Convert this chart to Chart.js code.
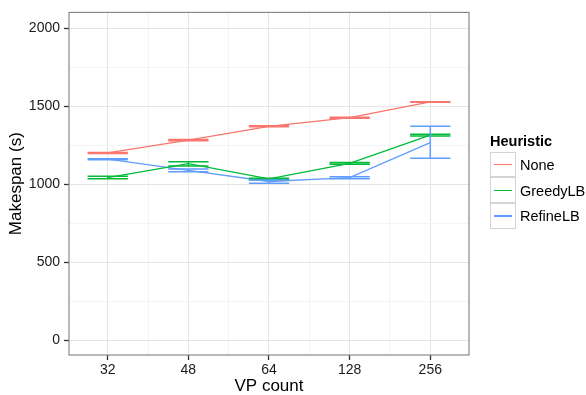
<!DOCTYPE html>
<html>
<head>
<meta charset="utf-8">
<script src="https://cdn.jsdelivr.net/npm/chart.js@4/dist/chart.umd.min.js"></script>
<style>
  html, body { margin: 0; padding: 0; background: #fff; }
  #wrap { position: relative; width: 586px; height: 395px; font-family: "Liberation Sans", Arial, Helvetica, sans-serif; }
  #c { position: absolute; left: 0; top: 0; }
  #legend { position: absolute; left: 490px; top: 133px; color: #000; }
  #legend .title { font-weight: bold; font-size: 14.5px; line-height: 17px; height: 19px; }
  #legend .row { display: flex; align-items: center; height: 25.7px; font-size: 14.5px; }
  #legend .key { width: 24px; height: 23.7px; border: 1px solid #d4d4d4; background: #fff; position: relative; box-sizing: content-box; margin-top: -1px; }
  #legend .key span { position: absolute; left: 3px; right: 3px; top: 11.5px; height: 1.4px; }
  #legend .lab { margin-left: 4px; }
</style>
</head>
<body>
<div id="wrap">
  <canvas id="c" width="586" height="395"></canvas>
  <div id="legend"></div>
</div>
<script>
const categories = ['32', '48', '64', '128', '256'];
const seriesNames = ['None', 'GreedyLB', 'RefineLB'];
const seriesColors = ['#F8766D', '#00BA38', '#619CFF'];

const noneMean = [1200, 1283, 1371, 1426, 1527];
const noneLo   = [1197, 1279, 1368, 1423, 1525];
const noneHi   = [1203, 1287, 1374, 1429, 1529];

const greedyMean = [1042, 1131, 1034, 1133, 1314];
const greedyLo   = [1034, 1117, 1028, 1127, 1308];
const greedyHi   = [1050, 1143, 1038, 1139, 1320];

const refineMean = [1160, 1088, 1017, 1042, 1266];
const refineLo   = [1157, 1080, 1006, 1035, 1166];
const refineHi   = [1163, 1097, 1027, 1048, 1371];

const yTicks = [0, 250, 500, 750, 1000, 1250, 1500, 1750, 2000];
const yMajor = [0, 500, 1000, 1500, 2000];

const means = [noneMean, greedyMean, refineMean];
const los = [noneLo, greedyLo, refineLo];
const his = [noneHi, greedyHi, refineHi];

const FONT = '"Liberation Sans", Arial, Helvetica, sans-serif';

const datasets = seriesNames.map((name, s) => ({
  label: name,
  data: categories.map((c, i) => ({ x: i, y: means[s][i] })),
  borderColor: seriesColors[s],
  backgroundColor: seriesColors[s],
  borderWidth: 1.3,
  pointRadius: 0,
  fill: false,
  tension: 0,
  errLo: los[s],
  errHi: his[s]
}));

const errorBars = {
  id: 'errorBars',
  afterDatasetsDraw(chart) {
    const { ctx, chartArea, scales: { x, y } } = chart;
    ctx.save();
    ctx.beginPath();
    ctx.rect(chartArea.left, chartArea.top, chartArea.right - chartArea.left, chartArea.bottom - chartArea.top);
    ctx.clip();
    chart.data.datasets.forEach(ds => {
      ctx.strokeStyle = ds.borderColor;
      ctx.lineWidth = 1.5;
      ds.data.forEach((p, i) => {
        const xc = x.getPixelForValue(p.x);
        const xl = x.getPixelForValue(p.x - 0.25);
        const xr = x.getPixelForValue(p.x + 0.25);
        const yl = y.getPixelForValue(ds.errLo[i]);
        const yh = y.getPixelForValue(ds.errHi[i]);
        ctx.beginPath();
        ctx.moveTo(xc, yl); ctx.lineTo(xc, yh);
        ctx.moveTo(xl, yl); ctx.lineTo(xr, yl);
        ctx.moveTo(xl, yh); ctx.lineTo(xr, yh);
        ctx.stroke();
      });
    });
    ctx.restore();
    // panel border
    ctx.save();
    ctx.strokeStyle = '#7F7F7F';
    ctx.lineWidth = 1.1;
    ctx.strokeRect(chartArea.left, chartArea.top, chartArea.right - chartArea.left, chartArea.bottom - chartArea.top);
    ctx.restore();
  }
};

new Chart(document.getElementById('c'), {
  type: 'line',
  data: { datasets },
  plugins: [errorBars],
  options: {
    responsive: false,
    animation: false,
    devicePixelRatio: 1,
    layout: { padding: { left: 0, right: 117, top: 8, bottom: 0 } },
    plugins: { legend: { display: false }, tooltip: { enabled: false } },
    scales: {
      x: {
        type: 'linear',
        min: -0.48,
        max: 4.48,
        afterBuildTicks(scale) {
          const t = [];
          for (let i = 0; i < categories.length; i++) {
            t.push({ value: i });
            if (i < categories.length - 1) t.push({ value: i + 0.5 });
          }
          scale.ticks = t;
        },
        afterFit(scale) { scale.height = 40; },
        ticks: {
          autoSkip: false,
          maxRotation: 0,
          padding: 2,
          color: '#1a1a1a',
          font: { family: FONT, size: 14 },
          callback: (v) => Number.isInteger(v) ? categories[v] : ''
        },
        grid: {
          drawTicks: true,
          tickLength: 5,
          tickWidth: 1.3,
          color: (c) => Number.isInteger(c.tick && c.tick.value) ? '#E5E5E5' : '#F3F3F3',
          tickColor: (c) => Number.isInteger(c.tick && c.tick.value) ? '#333333' : 'rgba(0,0,0,0)',
          lineWidth: 1
        },
        border: { display: false },
        title: {
          display: true,
          text: 'VP count',
          color: '#000',
          font: { family: FONT, size: 17, lineHeight: 1 },
          padding: { top: 0, bottom: 0 }
        }
      },
      y: {
        type: 'linear',
        min: -95,
        max: 2101,
        afterBuildTicks(scale) { scale.ticks = yTicks.map(v => ({ value: v })); },
        afterFit(scale) { scale.width = 69; },
        ticks: {
          autoSkip: false,
          padding: 4,
          color: '#1a1a1a',
          font: { family: FONT, size: 14 },
          callback: (v) => yMajor.includes(v) ? String(v) : ''
        },
        grid: {
          tickLength: 5,
          tickWidth: 1.3,
          color: (c) => yMajor.includes(c.tick && c.tick.value) ? '#E5E5E5' : '#F3F3F3',
          tickColor: (c) => yMajor.includes(c.tick && c.tick.value) ? '#333333' : 'rgba(0,0,0,0)',
          lineWidth: 1
        },
        border: { display: false },
        title: {
          display: true,
          text: 'Makespan (s)',
          color: '#000',
          font: { family: FONT, size: 17, lineHeight: 1.2 },
          padding: { top: 6, bottom: 0 }
        }
      }
    }
  }
});

// legend (HTML text)
const lg = document.getElementById('legend');
let html = '<div class="title">Heuristic</div>';
seriesNames.forEach((n, i) => {
  html += '<div class="row"><div class="key"><span style="background:' + seriesColors[i] + '"></span></div><div class="lab">' + n + '</div></div>';
});
lg.innerHTML = html;
</script>
</body>
</html>
